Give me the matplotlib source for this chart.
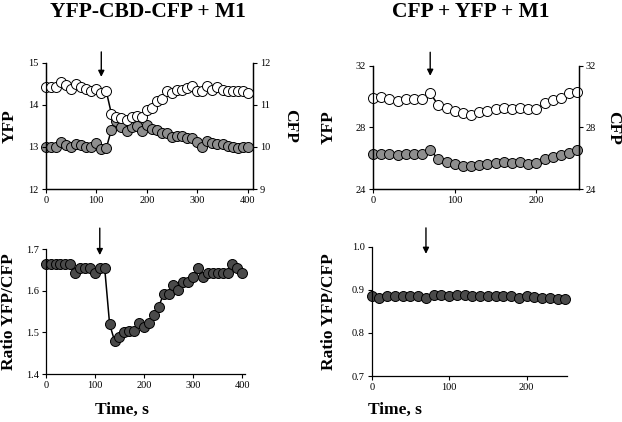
import numpy as np
import matplotlib
matplotlib.use('Agg')
from matplotlib import pyplot as plt

plt.rcParams['font.family'] = ['Liberation Serif', 'DejaVu Serif']

# YFP-CBD-CFP + M1 (every 10 s, 0..400)
t1 = np.arange(0, 401, 10)
yfp1 = [14.43, 14.43, 14.43, 14.54, 14.47, 14.38, 14.50, 14.43, 14.38, 14.34,
        14.38, 14.28, 14.32, 13.79, 13.71, 13.68, 13.65, 13.71, 13.73, 13.71,
        13.89, 13.92, 14.10, 14.14, 14.32, 14.28, 14.36, 14.36, 14.40, 14.44,
        14.32, 14.32, 14.44, 14.36, 14.42, 14.36, 14.34, 14.32, 14.32, 14.34,
        14.28]
cfp1 = [10.01, 9.99, 9.99, 10.11, 10.05, 9.99, 10.07, 10.05, 10.01, 9.99,
        10.09, 9.95, 9.98, 10.41, 10.61, 10.47, 10.39, 10.47, 10.49, 10.39,
        10.53, 10.42, 10.41, 10.34, 10.34, 10.23, 10.26, 10.26, 10.21, 10.21,
        10.13, 9.99, 10.15, 10.09, 10.07, 10.07, 10.03, 9.99, 9.97, 10.01,
        10.01]
ratio1 = [1.664, 1.664, 1.664, 1.664, 1.664, 1.664, 1.642, 1.654, 1.654, 1.654,
          1.642, 1.654, 1.654, 1.520, 1.480, 1.490, 1.502, 1.504, 1.504, 1.523,
          1.514, 1.522, 1.542, 1.562, 1.593, 1.592, 1.614, 1.602, 1.622, 1.622,
          1.633, 1.654, 1.634, 1.642, 1.642, 1.642, 1.642, 1.642, 1.664, 1.654,
          1.642]

# CFP + YFP + M1 (every 10 s, 0..250)
t2 = np.arange(0, 251, 10)
yfp2 = [29.90, 30.00, 29.83, 29.74, 29.83, 29.83, 29.83, 30.22, 29.44, 29.25,
        29.07, 28.92, 28.81, 29.03, 29.09, 29.18, 29.29, 29.18, 29.25, 29.18,
        29.18, 29.57, 29.79, 29.94, 30.22, 30.33]
cfp2 = [26.25, 26.25, 26.25, 26.20, 26.25, 26.25, 26.25, 26.54, 25.93, 25.77,
        25.60, 25.49, 25.49, 25.56, 25.60, 25.70, 25.77, 25.66, 25.77, 25.62,
        25.70, 25.94, 26.05, 26.20, 26.35, 26.54]
ratio2 = [0.885, 0.881, 0.885, 0.885, 0.885, 0.885, 0.885, 0.881, 0.888, 0.888,
          0.885, 0.888, 0.888, 0.885, 0.885, 0.885, 0.885, 0.885, 0.885, 0.882,
          0.885, 0.884, 0.882, 0.882, 0.880, 0.880]

titles = ['YFP-CBD-CFP + M1', 'CFP + YFP + M1']
arrow_t = [110, 70]

GRAY = '#8e8e8e'
DARK = '#4a4a4a'
mk = dict(marker='o', ms=7.2, mec='black', mew=0.7, color='black', lw=1.1, clip_on=False)
tick_fs = 7.5
lab_fs = 12.5
ratio_fs = 12.5


def style(ax, right=False):
    ax.spines['top'].set_visible(False)
    ax.spines['right'].set_visible(right)
    ax.tick_params(direction='out', length=3, width=0.8, labelsize=tick_fs, pad=2)
    for s in ax.spines.values():
        s.set_linewidth(0.9)


def arrow(ax, x, y0, y1):
    ax.annotate('', xy=(x, y1), xytext=(x, y0),
                xycoords=('data', 'axes fraction'), textcoords=('data', 'axes fraction'),
                arrowprops=dict(arrowstyle='-|>', color='black', lw=1.0,
                                mutation_scale=9, shrinkA=0, shrinkB=0),
                annotation_clip=False)


fig = plt.figure(figsize=(6.22, 4.22), dpi=100)

# top left
ax1 = fig.add_axes([0.0735, 0.552, 0.333, 0.299])
ax1r = ax1.twinx()
ax1r.plot(t1, cfp1, mfc=GRAY, **mk)
ax1.plot(t1, yfp1, mfc='white', **mk)
ax1.set_zorder(ax1r.get_zorder() + 1)
ax1.patch.set_visible(False)
ax1.set_xlim(0, 410)
ax1.set_ylim(12, 15)
ax1r.set_ylim(9, 12)
ax1.set_xticks([0, 100, 200, 300, 400])
ax1.set_yticks([12, 13, 14, 15])
ax1r.set_yticks([9, 10, 11, 12])
style(ax1, True)
style(ax1r, True)
ax1.text(-0.174, 0.5, 'YFP', transform=ax1.transAxes, rotation=90,
         ha='center', va='center', fontsize=lab_fs, fontweight='bold')
ax1.text(1.18, 0.5, 'CFP', transform=ax1.transAxes, rotation=270,
         ha='center', va='center', fontsize=lab_fs, fontweight='bold')
arrow(ax1, arrow_t[0], 1.087, 0.889)

# top right
ax2 = fig.add_axes([0.5997, 0.552, 0.331, 0.292])
ax2r = ax2.twinx()
ax2r.plot(t2, cfp2, mfc=GRAY, **mk)
ax2.plot(t2, yfp2, mfc='white', **mk)
ax2.set_zorder(ax2r.get_zorder() + 1)
ax2.patch.set_visible(False)
ax2.set_xlim(0, 252)
ax2.set_ylim(24, 32)
ax2r.set_ylim(24, 32)
ax2.set_xticks([0, 100, 200])
ax2.set_yticks([24, 28, 32])
ax2r.set_yticks([24, 28, 32])
style(ax2, True)
style(ax2r, True)
ax2.text(-0.214, 0.5, 'YFP', transform=ax2.transAxes, rotation=90,
         ha='center', va='center', fontsize=lab_fs, fontweight='bold')
ax2.text(1.165, 0.5, 'CFP', transform=ax2.transAxes, rotation=270,
         ha='center', va='center', fontsize=lab_fs, fontweight='bold')
arrow(ax2, arrow_t[1], 1.11, 0.919)

# bottom left
ax3 = fig.add_axes([0.0735, 0.1137, 0.32, 0.296])
ax3.plot(t1, ratio1, mfc=DARK, **mk)
ax3.set_xlim(0, 405)
ax3.set_ylim(1.4, 1.7)
ax3.set_xticks([0, 100, 200, 300, 400])
ax3.set_yticks([1.4, 1.5, 1.6, 1.7])
style(ax3)
ax3.text(-0.183, 0.5, 'Ratio YFP/CFP', transform=ax3.transAxes, rotation=90,
         ha='center', va='center', fontsize=ratio_fs, fontweight='bold')
arrow(ax3, arrow_t[0], 1.168, 0.952)

# bottom right
ax4 = fig.add_axes([0.5976, 0.109, 0.314, 0.306])
ax4.plot(t2, ratio2, mfc=DARK, **mk)
ax4.set_xlim(0, 252)
ax4.set_ylim(0.7, 1.0)
ax4.set_xticks([0, 100, 200])
ax4.set_yticks([0.7, 0.8, 0.9, 1.0])
ax4.yaxis.set_major_formatter(matplotlib.ticker.FormatStrFormatter('%.1f'))
style(ax4)
ax4.text(-0.22, 0.5, 'Ratio YFP/CFP', transform=ax4.transAxes, rotation=90,
         ha='center', va='center', fontsize=ratio_fs, fontweight='bold')
arrow(ax4, arrow_t[1], 1.147, 0.946)

fig.text(148 / 622, 1 - 12 / 422, titles[0], ha='center', va='center',
         fontsize=15.5, fontweight='bold')
fig.text(471 / 622, 1 - 12 / 422, titles[1], ha='center', va='center',
         fontsize=15.5, fontweight='bold')
fig.text(122 / 622, 1 - 410 / 422, 'Time, s', ha='center', va='center',
         fontsize=12.5, fontweight='bold')
fig.text(395 / 622, 1 - 410 / 422, 'Time, s', ha='center', va='center',
         fontsize=12.5, fontweight='bold')

fig.savefig('out.png', dpi=100)
